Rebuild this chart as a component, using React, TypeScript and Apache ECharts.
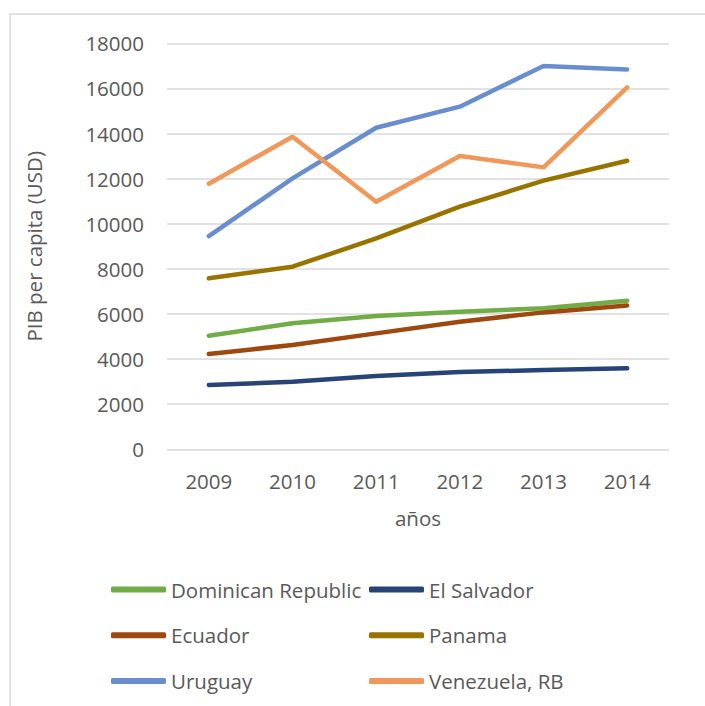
import React, { useEffect, useRef } from "react";
import * as echarts from "echarts";

const years = ["2009", "2010", "2011", "2012", "2013", "2014"];
const dominicanRepublic = [5035, 5585, 5910, 6100, 6250, 6590];
const elSalvador = [2850, 2995, 3250, 3425, 3515, 3590];
const ecuador = [4225, 4625, 5140, 5655, 6070, 6380];
const panama = [7580, 8095, 9350, 10755, 11910, 12795];
const uruguay = [9450, 12010, 14255, 15190, 16990, 16840];
const venezuela = [11775, 13860, 10975, 13000, 12500, 16045];

const seriesNames = ["Dominican Republic", "El Salvador", "Ecuador", "Panama", "Uruguay", "Venezuela, RB"];
const seriesData = [dominicanRepublic, elSalvador, ecuador, panama, uruguay, venezuela];
const seriesColors = ["#70ad47", "#264478", "#9e480e", "#997300", "#698ed0", "#f1975a"];

const FONT = "Open Sans";
const TXT = "#595959";
const FS = 20.5;

export default function App() {
  const ref = useRef<HTMLDivElement>(null);
  useEffect(() => {
    if (!ref.current) return;
    const chart = echarts.init(ref.current, undefined, { renderer: "svg" });
    const legendCommon = {
      orient: "vertical" as const,
      top: 579,
      padding: 0,
      itemGap: 24.7,
      itemWidth: 55,
      itemHeight: 6,
      icon: "roundRect",
      textStyle: { color: TXT, fontSize: FS, lineHeight: 20, fontFamily: FONT },
      selectedMode: false,
    };
    chart.setOption({
      animation: false,
      backgroundColor: "#ffffff",
      graphic: [
        {
          type: "rect",
          shape: { x: 10, y: 14, width: 760, height: 760 },
          style: { fill: "none", stroke: "#d9d9d9", lineWidth: 1.5 },
          silent: true,
        },
      ],
      grid: { left: 167, right: 36, top: 43.3, bottom: 256.7, containLabel: false },
      legend: [
        { ...legendCommon, left: 111, data: [seriesNames[0], seriesNames[2], seriesNames[4]] },
        { ...legendCommon, left: 369, data: [seriesNames[1], seriesNames[3], seriesNames[5]] },
      ],
      xAxis: {
        type: "category",
        data: years,
        boundaryGap: true,
        name: "años",
        nameLocation: "middle",
        nameGap: 58,
        nameTextStyle: { color: TXT, fontSize: FS, fontFamily: FONT },
        axisLine: { show: false },
        axisTick: { show: false },
        axisLabel: { color: TXT, fontSize: FS, fontFamily: FONT, margin: 21 },
      },
      yAxis: {
        type: "value",
        min: 0,
        max: 18000,
        interval: 2000,
        name: "PIB per capita (USD)",
        nameLocation: "middle",
        nameGap: 123,
        nameRotate: 90,
        nameTextStyle: { color: TXT, fontSize: FS, fontFamily: FONT },
        axisLine: { show: false },
        axisTick: { show: false },
        axisLabel: { color: TXT, fontSize: FS, fontFamily: FONT, margin: 23, formatter: (v: number) => String(v) },
        splitLine: { lineStyle: { color: "#d9d9d9", width: 1.5 } },
      },
      series: seriesNames.map((name, i) => ({
        name,
        type: "line",
        data: seriesData[i],
        symbol: "none",
        color: seriesColors[i],
        lineStyle: { width: 4.5, color: seriesColors[i], cap: "round", join: "round" },
      })),
    });
    return () => chart.dispose();
  }, []);
  return <div ref={ref} style={{ width: 705, height: 706, position: "absolute", left: 0, top: 0 }} />;
}
